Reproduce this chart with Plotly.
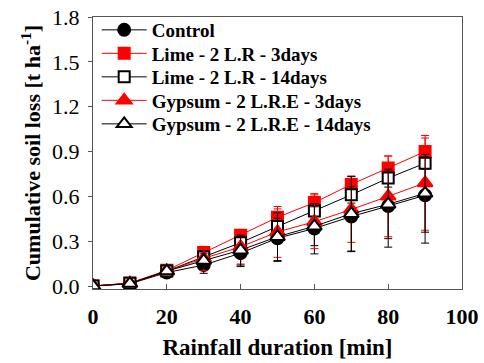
import plotly.graph_objects as go

x = [0, 10, 20, 30, 40, 50, 60, 70, 80, 90]
names = ["Control", "Lime - 2 L.R - 3days", "Lime - 2 L.R - 14days",
         "Gypsum - 2 L.R.E - 3days", "Gypsum - 2 L.R.E - 14days"]
control = [0, 0.015, 0.09, 0.14, 0.22, 0.32, 0.385, 0.465, 0.535, 0.607]
control_err = [0, 0.005, 0.02, 0.055, 0.09, 0.155, 0.17, 0.235, 0.275, 0.32]
lime3 = [0, 0.02, 0.105, 0.225, 0.34, 0.46, 0.558, 0.68, 0.79, 0.90]
lime3_err = [0, 0.005, 0.015, 0.03, 0.02, 0.056, 0.06, 0.055, 0.08, 0.09]
lime14 = [0, 0.018, 0.10, 0.195, 0.29, 0.398, 0.502, 0.61, 0.722, 0.822]
lime14_err = [0, 0.005, 0.015, 0.03, 0.04, 0.055, 0.05, 0.055, 0.06, 0.04]
gyp3 = [0, 0.018, 0.10, 0.185, 0.262, 0.362, 0.43, 0.512, 0.60, 0.69]
gyp3_err = [0, 0.005, 0.015, 0.08, 0.115, 0.17, 0.18, 0.22, 0.27, 0.317]
gyp14 = [0, 0.016, 0.10, 0.17, 0.24, 0.33, 0.40, 0.484, 0.547, 0.62]
gyp14_err = [0, 0.005, 0.02, 0.05, 0.10, 0.16, 0.13, 0.25, 0.23, 0.26]

series = [control, lime3, lime14, gyp3, gyp14]
errors = [control_err, lime3_err, lime14_err, gyp3_err, gyp14_err]
line_colors = ["black", "red", "black", "red", "black"]
symbols = ["circle", "square", "square", "triangle-up", "triangle-up"]
fills = ["black", "red", "white", "red", "white"]
sizes = [12, 11, 11, 13, 13]

font = "Liberation Serif"
W, H = 484, 363
ML, MR, MT, MB = 93, 22, 16, 74
plot_h = H - MT - MB
legend_rows_px = [30, 53.5, 77, 100.5, 124]  # vertical anchor of legend rows (pixels from top)

fig = go.Figure()
layout_legends = {}
for i, (n, y, e, lc, s, f, sz) in enumerate(zip(names, series, errors, line_colors, symbols, fills, sizes)):
    lname = "legend" if i == 0 else f"legend{i + 1}"
    fig.add_trace(go.Scatter(
        x=x, y=y, name="<b>" + n + "</b>", mode="lines+markers",
        line=dict(color=lc, width=1),
        marker=dict(symbol=s, size=sz, color=f, line=dict(color=lc, width=2)),
        error_y=dict(type="data", array=e, visible=True, color=lc, thickness=1, width=4),
        legend=lname,
    ))
    layout_legends[lname] = dict(
        x=0.01, y=(H - MB - legend_rows_px[i]) / plot_h, xanchor="left", yanchor="middle",
        font=dict(family=font, size=19, color="black"),
        bgcolor="rgba(0,0,0,0)", itemwidth=45)

fig.update_layout(
    width=W, height=H,
    margin=dict(l=ML, r=MR, t=MT, b=MB),
    plot_bgcolor="white", paper_bgcolor="white",
    font=dict(family=font, size=22, color="black"),
    showlegend=True,
    xaxis=dict(range=[0, 100], dtick=20, tickformat="d", automargin=False,
               showline=True, linecolor="#555", linewidth=1, mirror=True,
               ticks="inside", ticklen=5, tickcolor="#555", showgrid=False, zeroline=False,
               ticklabelstandoff=8,
               title=dict(text="<b>Rainfall duration [min]</b>", standoff=10,
                          font=dict(family=font, size=23)),
               tickprefix="<b>", ticksuffix="</b>",
               tickfont=dict(family=font, size=22)),
    yaxis=dict(range=[-0.02, 1.8], tickvals=[0, 0.3, 0.6, 0.9, 1.2, 1.5, 1.8], tickformat=".1f",
               automargin=False,
               showline=True, linecolor="#555", linewidth=1, mirror=True,
               ticks="outside", ticklen=4, tickcolor="#555", showgrid=False, zeroline=False,
               ticklabelstandoff=4,
               title=dict(text="<b>Cumulative soil loss [t ha<sup>-1</sup>]</b>", standoff=5,
                          font=dict(family=font, size=22)),
               tickprefix="<b>", ticksuffix="</b>",
               tickfont=dict(family=font, size=22)),
    **layout_legends,
)
fig.write_html("out.html")
